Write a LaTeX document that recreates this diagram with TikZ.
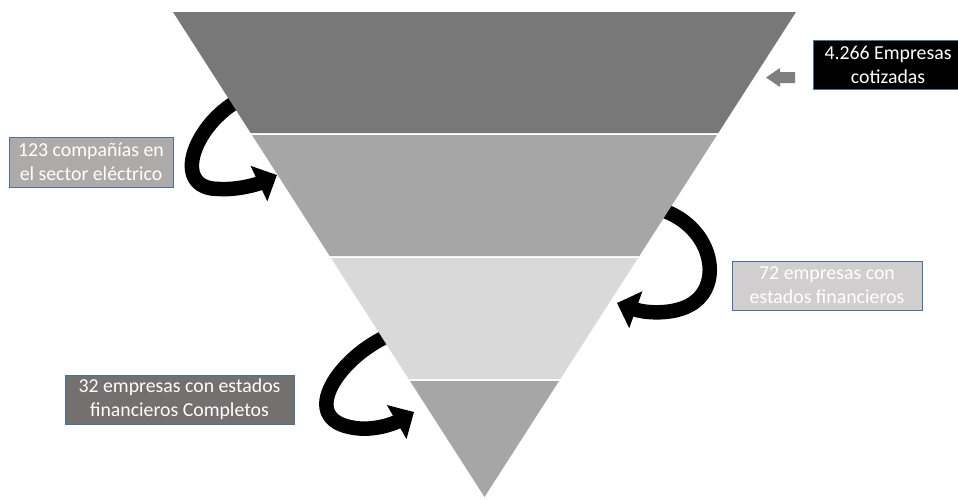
\documentclass[tikz,border=0pt]{standalone}
\usepackage{fontspec}
\setmainfont{Carlito}
\usetikzlibrary{arrows.meta}
\definecolor{bandA}{HTML}{787878}
\definecolor{bandB}{HTML}{A6A6A6}
\definecolor{bandC}{HTML}{D9D9D9}
\definecolor{boxline}{HTML}{4A6FA5}
\definecolor{fillTwo}{HTML}{AEAAAA}
\definecolor{fillThree}{HTML}{D0CECE}
\definecolor{fillFour}{HTML}{737070}
\definecolor{smallarrow}{HTML}{7F7F7F}
\tikzset{
  labelbox/.style={draw=boxline, line width=0.8pt, text=white, align=center,
    font=\fontsize{19.8}{24}\selectfont, inner sep=0pt},
  bigarrow/.style={draw=black, line width=14.5pt, -{Triangle[length=20pt,width=38pt]}},
}
\begin{document}
\begin{tikzpicture}[x=1pt,y=-1pt]
\useasboundingbox (0,0) rectangle (958,499);
\fill[white] (0,0) rectangle (958,499);

% curved arrows (tails hidden under the funnel)
\coordinate (a1s) at (245,97);
\coordinate (a1m) at (220,189);
\coordinate (a1e) at (277,175);
\draw[bigarrow] (a1s) .. controls (195,120) and (168,190) .. (a1m)
  .. controls (238,190) and (258,184) .. (a1e);

\coordinate (a2s) at (655,208);
\coordinate (a2m) at (690,305);
\coordinate (a2e) at (617,303);
\draw[bigarrow] (a2s) .. controls (712,222) and (726,285) .. (a2m)
  .. controls (672,315) and (645,313) .. (a2e);

\coordinate (a3s) at (392,334);
\coordinate (a3m) at (355,428);
\coordinate (a3e) at (414,412);
\draw[bigarrow] (a3s) .. controls (340,355) and (295,420) .. (a3m)
  .. controls (375,431) and (395,423) .. (a3e);

% funnel bands
\fill[bandA] (173,12) -- (796,12) -- (718.3,133) -- (250.7,133) -- cycle;
\fill[bandB] (252,135) -- (717,135) -- (639.3,256) -- (329.7,256) -- cycle;
\fill[bandC] (331,258) -- (638,258) -- (560.3,379) -- (408.7,379) -- cycle;
\fill[bandB] (410,381) -- (559,381) -- (484.5,497) -- cycle;

% small grey arrow
\fill[smallarrow] (766,77.5) -- (780,68) -- (780,72) -- (795,72) -- (795,83)
  -- (780,83) -- (780,87) -- cycle;

% labels
\node[labelbox, fill=black, minimum width=150pt, minimum height=49pt]
  (l1) at (888,64.5) {4.266 Empresas\\cotizadas};
\node[labelbox, fill=fillTwo, minimum width=164pt, minimum height=50pt]
  (l2) at (91,162) {123 compañías en\\el sector eléctrico};
\node[labelbox, fill=fillThree, minimum width=190pt, minimum height=49pt]
  (l3) at (827,285.5) {72 empresas con\\estados financieros};
\node[labelbox, fill=fillFour, minimum width=229pt, minimum height=49pt]
  (l4) at (179.5,399.5) {32 empresas con estados\\financieros Completos};
\end{tikzpicture}
\end{document}
